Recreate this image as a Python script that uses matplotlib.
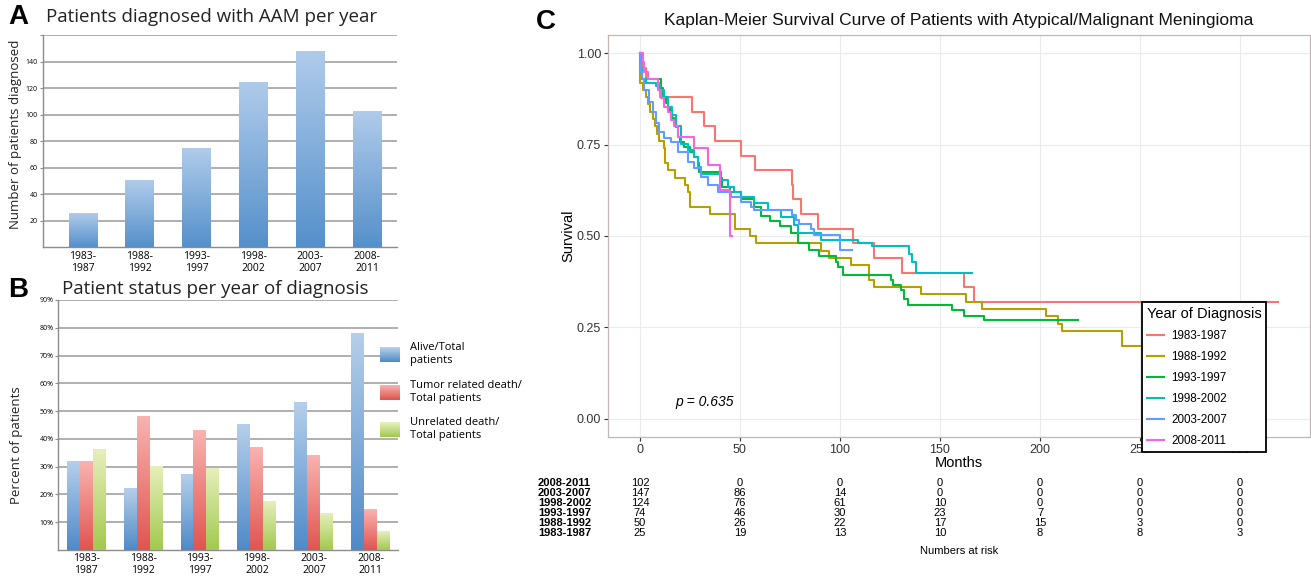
import numpy as np
import matplotlib
matplotlib.use('Agg')
import matplotlib.pyplot as plt
from matplotlib.colors import LinearSegmentedColormap
from matplotlib.legend_handler import HandlerBase
from matplotlib.patches import Rectangle, Patch

# ---- data ----
periods = ['1983-1987', '1988-1992', '1993-1997', '1998-2002', '2003-2007', '2008-2011']
tick_labels = ['1983-\n1987', '1988-\n1992', '1993-\n1997', '1998-\n2002', '2003-\n2007', '2008-\n2011']

diagnosed = [25, 50, 74, 124, 147, 102]

alive_pct = [32, 22, 27, 45, 53, 78]
tumor_death_pct = [32, 48, 43, 37, 34, 14.5]
unrelated_death_pct = [36, 30, 29.5, 17.5, 13, 6.5]

# Kaplan-Meier steps (months, survival)
km_8387_t = [0, 1, 3, 10, 26, 32, 37.5, 50.5, 57.5, 76, 76.5, 80.5, 89, 106.5, 117, 131, 162, 167, 319]
km_8387_s = [1.0, 0.96, 0.92, 0.88, 0.84, 0.80, 0.76, 0.72, 0.68, 0.64, 0.60, 0.56, 0.52, 0.48, 0.44, 0.40, 0.36, 0.32, 0.32]
km_8892_t = [0, 0.2, 1.5, 3, 3.8, 5.2, 6.3, 7.5, 8.5, 9.7, 12, 12.7, 13.8, 17.7, 22.7, 23.8, 25, 35, 47.5,
             55, 58, 90.5, 94.7, 105.5, 114.7, 117, 140.5, 163, 171, 203, 209, 211, 241, 268]
km_8892_s = [1.0, 0.92, 0.90, 0.88, 0.86, 0.84, 0.82, 0.80, 0.78, 0.76, 0.74, 0.70, 0.68, 0.66, 0.64, 0.62, 0.58, 0.56, 0.52,
             0.50, 0.48, 0.46, 0.44, 0.42, 0.38, 0.36, 0.34, 0.32, 0.30, 0.28, 0.26, 0.24, 0.20, 0.20]
km_9397_t = [0, 0.3, 1, 10.5, 11.5, 13, 14, 15, 16, 17, 18, 19, 20, 22, 25, 27, 29, 29.5, 40.5, 41, 45, 50.5, 57,
             60.5, 65, 70, 75.5, 79, 84.5, 89.5, 98, 99, 101.3, 125.5, 126.5, 130.5, 132, 134, 156, 162, 172, 219]
km_9397_s = [1.0, 0.96, 0.93, 0.905, 0.88, 0.865, 0.85, 0.838, 0.824, 0.81, 0.797, 0.77, 0.757, 0.743, 0.73, 0.716,
             0.70, 0.675, 0.66, 0.635, 0.62, 0.60, 0.58, 0.554, 0.54, 0.527, 0.507, 0.48, 0.462, 0.445, 0.43, 0.416,
             0.393, 0.38, 0.365, 0.352, 0.327, 0.31, 0.298, 0.282, 0.269, 0.269]
km_9802_t = [0, 0.3, 1, 3, 8, 10, 12, 14, 16, 18, 20.5, 24, 27, 29, 30.5, 40.5, 44, 47, 50.5, 57, 64, 70.5, 77,
             79, 90.5, 109, 116, 134.7, 136, 138, 166]
km_9802_s = [1.0, 0.96, 0.93, 0.92, 0.91, 0.90, 0.88, 0.853, 0.83, 0.80, 0.753, 0.735, 0.717, 0.69, 0.671, 0.653,
             0.635, 0.62, 0.607, 0.59, 0.571, 0.553, 0.53, 0.507, 0.49, 0.482, 0.473, 0.452, 0.43, 0.40, 0.40]
km_0307_t = [0, 0.3, 1, 2, 4.7, 6.3, 8, 9.7, 12, 15.5, 19, 24, 27, 30.5, 34, 39, 45.5, 50.5, 55.5, 57, 76, 78,
             79.5, 85.5, 87, 100, 106]
km_0307_s = [1.0, 0.95, 0.93, 0.90, 0.867, 0.84, 0.81, 0.785, 0.767, 0.758, 0.73, 0.703, 0.685, 0.662, 0.64, 0.621,
             0.607, 0.594, 0.58, 0.571, 0.557, 0.545, 0.534, 0.518, 0.503, 0.462, 0.462]
km_0811_t = [0, 1.3, 2, 3.8, 9, 10.5, 12, 14, 15.5, 17, 19, 27, 34, 40, 45, 46]
km_0811_s = [1.0, 0.976, 0.95, 0.93, 0.90, 0.877, 0.853, 0.84, 0.817, 0.80, 0.77, 0.74, 0.694, 0.626, 0.50, 0.50]

risk_times = [0, 50, 100, 150, 200, 250, 300]
risk_0811 = [102, 0, 0, 0, 0, 0, 0]
risk_0307 = [147, 86, 14, 0, 0, 0, 0]
risk_9802 = [124, 76, 61, 10, 0, 0, 0]
risk_9397 = [74, 46, 30, 23, 7, 0, 0]
risk_8892 = [50, 26, 22, 17, 15, 3, 0]
risk_8387 = [25, 19, 13, 10, 8, 8, 3]

km_colors = ['#F8766D', '#B79F00', '#00BA38', '#00BFC4', '#619CFF', '#F564E3']

W, H = 1311, 578
fig = plt.figure(figsize=(W / 100, H / 100), dpi=100)

XL = 'Open Sans'
GG = 'Liberation Sans'
NARROW = ['Liberation Sans Narrow', 'Liberation Sans']


def fx(px):
    return px / W


def fy(py):
    return 1 - py / H


def gradient_bars(ax, bars, top, bottom):
    cmap = LinearSegmentedColormap.from_list('g', [bottom, top])
    grad = np.linspace(0, 1, 128).reshape(-1, 1)
    for b in bars:
        x, y = b.get_x(), b.get_y()
        w, h = b.get_width(), b.get_height()
        ax.imshow(grad, extent=[x, x + w, y, y + h], origin='lower', cmap=cmap,
                  aspect='auto', zorder=3, interpolation='bilinear')
        b.set_facecolor('none')
        b.set_edgecolor('none')


class GradHandler(HandlerBase):
    def __init__(self, top, bottom):
        super().__init__()
        self.cmap = LinearSegmentedColormap.from_list('g', [bottom, top])

    def create_artists(self, legend, orig_handle, xdescent, ydescent, width, height, fontsize, trans):
        n = 20
        arts = []
        for i in range(n):
            r = Rectangle((-xdescent, -ydescent + height * i / n), width, height / n * 1.05,
                          facecolor=self.cmap(i / (n - 1)), edgecolor='none', transform=trans)
            arts.append(r)
        return arts


def excel_axes(ax):
    ax.spines['top'].set_visible(False)
    ax.spines['right'].set_visible(False)
    ax.spines['left'].set_color('#8c8c8c')
    ax.spines['bottom'].set_color('#8c8c8c')
    ax.spines['left'].set_linewidth(1.0)
    ax.spines['bottom'].set_linewidth(1.0)
    ax.yaxis.grid(True, color='#9a9a9a', lw=1.1, zorder=0)
    ax.set_axisbelow(True)
    ax.tick_params(axis='y', length=2.5, width=0.8, color='#8c8c8c', labelsize=5, pad=1)
    ax.tick_params(axis='x', length=0, labelsize=7.5, pad=2.5)
    for lab in ax.get_xticklabels() + ax.get_yticklabels():
        lab.set_fontfamily(XL)


# ---- panel A ----
axA = fig.add_axes([fx(42.7), fy(247.3), 354 / W, 212.3 / H])
xA = np.arange(len(periods))
barsA = axA.bar(xA, diagnosed, width=0.51)
gradient_bars(axA, barsA, '#b0cbea', '#5590cb')
axA.set_xlim(-0.71, 5.52)
axA.set_ylim(0, 160)
axA.set_yticks(range(20, 161, 20))
axA.set_yticklabels([str(v) for v in range(20, 141, 20)] + [''])
axA.set_xticks(xA)
axA.set_xticklabels(tick_labels, linespacing=1.1)
excel_axes(axA)
fig.text(fx(8), fy(17), 'A', fontsize=20, fontweight='bold', family=GG, va='center')
fig.text(fx(46), fy(17), 'Patients diagnosed with AAM per year', fontsize=13.5, family=XL,
         va='center', color='#222222')
fig.text(fx(16), fy(134), 'Number of patients diagnosed', fontsize=9.5, family=XL, rotation=90,
         ha='center', va='center', color='#222222')

# ---- panel B ----
axB = fig.add_axes([fx(58.3), fy(550), (398 - 58.3) / W, 250 / H])
bw = 0.228
b1 = axB.bar(xA - bw, alive_pct, width=bw)
b2 = axB.bar(xA, tumor_death_pct, width=bw)
b3 = axB.bar(xA + bw, unrelated_death_pct, width=bw)
blue = ('#b5cfea', '#4f8ac8')
red = ('#f9b3b1', '#e05550')
green = ('#e6efba', '#a2c94f')
gradient_bars(axB, b1, *blue)
gradient_bars(axB, b2, *red)
gradient_bars(axB, b3, *green)
axB.set_xlim(-0.49, 5.48)
axB.set_ylim(0, 90)
axB.set_yticks(range(10, 91, 10))
axB.set_yticklabels(['%d%%' % v for v in range(10, 91, 10)])
axB.set_xticks(xA)
axB.set_xticklabels(tick_labels, linespacing=1.1)
excel_axes(axB)
fig.text(fx(8), fy(290), 'B', fontsize=20, fontweight='bold', family=GG, va='center')
fig.text(fx(62), fy(289), 'Patient status per year of diagnosis', fontsize=13.5, family=XL,
         va='center', color='#222222')
fig.text(fx(17), fy(445), 'Percent of patients', fontsize=9.5, family=XL, rotation=90,
         ha='center', va='center', color='#222222')

hB = [Patch(), Patch(), Patch()]
legB = fig.legend(hB, ['Alive/Total\npatients', 'Tumor related death/\nTotal patients',
                       'Unrelated death/\nTotal patients'],
                  loc='upper left', bbox_to_anchor=(fx(376), fy(338)), frameon=False,
                  borderaxespad=0,
                  prop={'family': XL, 'size': 8}, handlelength=1.8, handleheight=1.7,
                  handletextpad=0.9, labelspacing=1.25,
                  handler_map={hB[0]: GradHandler(*blue), hB[1]: GradHandler(*red),
                               hB[2]: GradHandler(*green)})

# ---- panel C ----
axC = fig.add_axes([fx(608), fy(437), 702 / W, 402 / H])
curves = [(km_8387_t, km_8387_s), (km_8892_t, km_8892_s), (km_9397_t, km_9397_s),
          (km_9802_t, km_9802_s), (km_0307_t, km_0307_s), (km_0811_t, km_0811_s)]
for (t, s), c, lab in zip(curves, km_colors, periods):
    axC.step(t, s, where='post', color=c, lw=1.5, label=lab)
axC.set_xlim(-15.95, 334.95)
axC.set_ylim(-0.05, 1.05)
axC.set_xticks(risk_times)
axC.set_yticks([0, 0.25, 0.5, 0.75, 1.0])
axC.set_yticklabels(['0.00', '0.25', '0.50', '0.75', '1.00'])
axC.grid(True, color='#ebebeb', lw=0.8)
axC.set_axisbelow(True)
for sp in axC.spines.values():
    sp.set_color('#c2b6b6')
    sp.set_linewidth(0.9)
axC.tick_params(length=3, width=0.8, color='#333333', labelsize=9, labelcolor='#333333', pad=2)
for lab in axC.get_xticklabels() + axC.get_yticklabels():
    lab.set_fontfamily(GG)
axC.text(32.5, 0.046, 'p = 0.635', style='italic', fontsize=10, family=GG, ha='center', va='center')

fig.text(fx(546), fy(22), 'C', fontsize=20, fontweight='bold', family=GG, ha='center', va='center')
fig.text(fx(959), fy(20), 'Kaplan-Meier Survival Curve of Patients with Atypical/Malignant Meningioma',
         fontsize=12.5, family=GG, ha='center', va='center', color='#111111')
fig.text(fx(568), fy(236), 'Survival', fontsize=10.5, family=GG, rotation=90, ha='center', va='center')
fig.text(fx(959), fy(463), 'Months', fontsize=10.5, family=GG, ha='center', va='center')

legC = axC.legend(loc='upper left', bbox_to_anchor=(fx(1142), fy(302)), bbox_transform=fig.transFigure,
                  borderaxespad=0,
                  title='Year of Diagnosis', prop={'family': GG, 'size': 8.4},
                  title_fontproperties={'family': GG, 'size': 10.5}, frameon=True, fancybox=False,
                  edgecolor='black', framealpha=1, borderpad=0.4, handlelength=1.5,
                  labelspacing=0.78, handletextpad=0.6)
legC.get_frame().set_linewidth(1.3)
legC._legend_box.align = 'left'

# ---- numbers at risk ----
axR = fig.add_axes([fx(608), fy(538), 702 / W, 60 / H])
axR.set_xlim(axC.get_xlim())
axR.set_ylim(-0.5, 5.5)
axR.axis('off')
risk_rows = [('2008-2011', risk_0811), ('2003-2007', risk_0307), ('1998-2002', risk_9802),
             ('1993-1997', risk_9397), ('1988-1992', risk_8892), ('1983-1987', risk_8387)]
for i, (lab, vals) in enumerate(risk_rows):
    yv = 5 - i
    axR.text(-51, yv, lab, family=NARROW, fontweight='bold', fontsize=8, ha='left', va='center')
    for tt, v in zip(risk_times, vals):
        axR.text(tt, yv, str(v), family=NARROW, fontsize=8, ha='center', va='center')
fig.text(fx(959), fy(551), 'Numbers at risk', fontsize=8, family=NARROW, ha='center', va='center')

fig.savefig('out.png', dpi=100)
